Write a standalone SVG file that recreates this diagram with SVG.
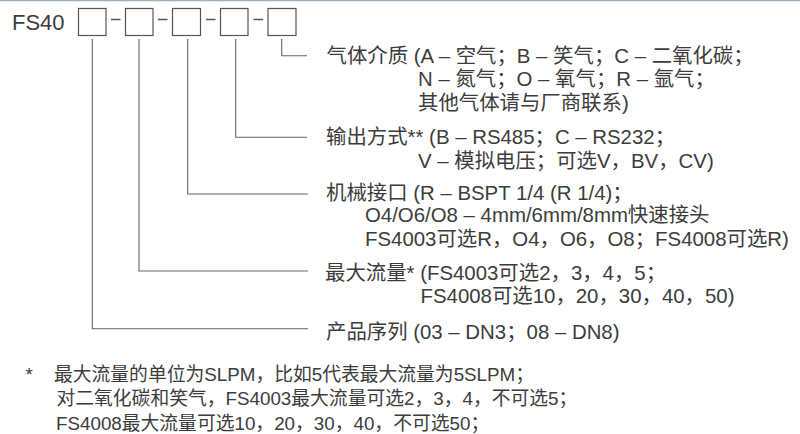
<svg xmlns="http://www.w3.org/2000/svg" width="800" height="434" viewBox="0 0 800 434">
<style>
.t{font-family:"Liberation Sans","Noto Sans CJK SC",sans-serif;font-size:20.4px;fill:#3c3c3c}
.f{font-family:"Liberation Sans","Noto Sans CJK SC",sans-serif;font-size:18.8px;fill:#3c3c3c}
.box{fill:none;stroke:#555;stroke-width:1.2}
.dash{stroke:#555;stroke-width:1.5}
.c{fill:none;stroke:#666;stroke-width:1.1}
</style>
<rect x="0" y="0" width="800" height="434" fill="#fff"/>
<line x1="0" y1="0.5" x2="800" y2="0.5" stroke="#a4aeb8" stroke-width="1.5"/>
<g id="code">
<text x="12" y="29.5" font-family="Liberation Sans, sans-serif" font-size="22" fill="#3c3c3c">FS40</text>
<rect class="box" x="78.5" y="8.5" width="27.5" height="27"/>
<rect class="box" x="125.5" y="8.5" width="27.5" height="27"/>
<rect class="box" x="172.5" y="8.5" width="28" height="27"/>
<rect class="box" x="220.5" y="8.5" width="27.5" height="27"/>
<rect class="box" x="268" y="8.5" width="28" height="27"/>
<line class="dash" x1="111" y1="19.5" x2="120.5" y2="19.5"/>
<line class="dash" x1="158" y1="19.5" x2="167.5" y2="19.5"/>
<line class="dash" x1="206" y1="19.5" x2="215.5" y2="19.5"/>
<line class="dash" x1="253.5" y1="19.5" x2="263" y2="19.5"/>
</g>
<g id="connectors">
<polyline class="c" points="281.7,39 281.7,55.7 307,55.7"/>
<polyline class="c" points="235.7,39 235.7,137.3 307,137.3"/>
<polyline class="c" points="187.7,39 187.7,194 308,194"/>
<polyline class="c" points="139,39 139,271 308,271"/>
<polyline class="c" points="92.3,39 92.3,328.7 308,328.7"/>
</g>
<g id="gas">
<text class="t" x="326.5" y="62.5">气体介质 (A – 空气；B – 笑气；C – 二氧化碳；</text>
<text class="t" x="418" y="86">N – 氮气；O – 氧气；R – 氩气；</text>
<text class="t" x="418" y="109.5">其他气体请与厂商联系)</text>
</g>
<g id="output">
<text class="t" x="326" y="144">输出方式** (B – RS485；C – RS232；</text>
<text class="t" x="418" y="168">V – 模拟电压；可选V，BV，CV)</text>
</g>
<g id="fitting">
<text class="t" x="326" y="199.5">机械接口 (R – BSPT 1/4 (R 1/4)；</text>
<text class="t" x="365" y="222">O4/O6/O8 – 4mm/6mm/8mm快速接头</text>
<text class="t" x="365" y="245.5">FS4003可选R，O4，O6，O8；FS4008可选R)</text>
</g>
<g id="flow">
<text class="t" x="325" y="280">最大流量* (FS4003可选2，3，4，5；</text>
<text class="t" x="420.5" y="303">FS4008可选10，20，30，40，50)</text>
</g>
<g id="series">
<text class="t" x="326" y="338.5">产品序列 (03 – DN3；08 – DN8)</text>
</g>
<g id="footnote">
<text class="f" x="25.5" y="380.5">*</text>
<text class="f" x="54" y="380.5">最大流量的单位为SLPM，比如5代表最大流量为5SLPM；</text>
<text class="f" x="56.5" y="404.5">对二氧化碳和笑气，FS4003最大流量可选2，3，4，不可选5；</text>
<text class="f" x="56" y="429.5">FS4008最大流量可选10，20，30，40，不可选50；</text>
</g>
</svg>
